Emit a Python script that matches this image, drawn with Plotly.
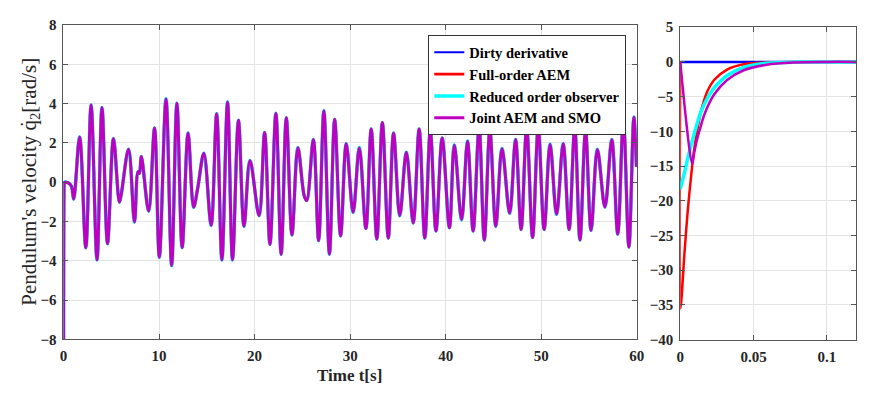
import plotly.graph_objects as go

# ---------------- data ----------------
# Main window (t > 0.12 s): extrema of the pendulum velocity (shared by all observers)
t_main = [0.5, 0.83, 1.07, 1.69, 2.34, 2.89, 3.51, 4.03, 4.61, 5.23, 5.85, 6.05, 6.81, 7.43, 7.80, 7.95,
          8.15, 8.91, 9.53, 10.03, 10.73, 11.32, 11.87, 12.42, 13.04, 13.62, 14.05, 14.69, 15.45, 16.03,
          16.58, 17.17, 17.69, 18.31, 18.89, 19.52, 20.47, 21.05, 21.61, 22.23, 22.78, 23.32, 23.91, 24.53,
          25.2, 25.46, 26.15, 26.70, 27.25, 27.83, 28.38, 29.0, 29.59, 30.31, 30.96, 31.65, 32.2, 32.79,
          33.37, 33.99, 34.54, 35.19, 35.88, 36.6, 37.22, 37.81, 38.39, 38.98, 39.63, 40.39, 40.9, 41.66,
          42.28, 42.87, 43.49, 44.04, 44.62, 45.24, 45.89, 46.69, 47.31, 47.89, 48.47, 49.09, 49.68, 50.3,
          50.92, 51.6, 52.29, 52.91, 53.5, 54.05, 54.63, 55.21, 55.87, 56.66, 57.38, 58.0, 58.59, 59.17,
          59.69, 59.96]
v_main = [-0.03, -0.2, -0.85, 2.3, -3.33, 3.93, -3.95, 3.80, -3.13, 2.22, -1.01, -0.6, 1.68, -2.02, 0.54, 0.45,
          1.31, -1.47, 2.76, -3.82, 4.24, -4.24, 4.02, -3.33, 2.50, -1.27, -0.3, 1.47, -2.19, 3.48,
          -3.95, 4.08, -3.95, 3.15, -2.24, 1.1, -1.7, 2.53, -3.17, 3.51, -3.67, 3.28, -2.68, 1.76,
          -0.7, -0.93, 2.17, -2.97, 3.64, -3.66, 3.20, -2.73, 1.96, -1.53, 1.76, -2.35, 2.71, -2.89,
          3.04, -2.84, 2.50, -1.70, 1.52, -2.07, 2.71, -2.84, 2.63, -2.48, 2.25, -2.32, 1.89, -1.91,
          2.09, -2.48, 2.78, -2.94, 2.66, -2.24, 1.71, -1.58, 2.17, -2.40, 2.78, -2.81, 2.75, -2.40,
          1.93, -1.63, 1.96, -2.40, 2.78, -2.94, 2.63, -2.45, 1.67, -1.26, 2.17, -2.64, 3.15, -3.30,
          3.31, 0.78]

# Initial transient (zoomed window 0 ... 0.12 s)
blue_t = [0.0, 0.12]
blue_v = [0.0, 0.0]
red_t = [0.0, 0.0002, 0.0029, 0.0051, 0.0074, 0.0096, 0.0141, 0.0186, 0.0231, 0.032, 0.0433, 0.059, 0.0814, 0.12]
red_v = [0.0, -35.5, -27.5, -21.5, -16.5, -12.5, -7.2, -4.2, -2.6, -1.1, -0.35, -0.08, 0.0, 0.0]
cyan_t = [0.0, 0.0029, 0.0051, 0.0074, 0.0096, 0.0141, 0.0186, 0.0231, 0.032, 0.0433, 0.059, 0.0814, 0.12]
cyan_v = [-18.3, -15.9, -13.9, -12.0, -10.3, -7.2, -5.2, -3.75, -1.95, -0.8, -0.2, -0.03, 0.0]
mag_t = [0.0, 0.0081, 0.0096, 0.0119, 0.0141, 0.0164, 0.0231, 0.032, 0.0433, 0.059, 0.077, 0.1, 0.12]
mag_v = [0.0, -14.7, -13.0, -10.8, -9.2, -7.6, -4.7, -2.6, -1.2, -0.4, -0.08, 0.0, 0.0]

names = ["Dirty derivative", "Full-order AEM", "Reduced order observer", "Joint AEM and SMO"]
colors = ["#0000ff", "#ff0000", "#00ffff", "#c000c0"]
left_widths = [2.2, 2.8, 3.6, 3.0]
right_widths = [2.5, 2.5, 3.5, 2.5]

assert len(t_main) == len(v_main)

series_start = [(blue_t, blue_v), (red_t, red_v), (cyan_t, cyan_v), (mag_t, mag_v)]

fig = go.Figure()
for i, (st, sv) in enumerate(series_start):
    fig.add_trace(go.Scatter(
        x=st + t_main, y=sv + v_main, mode="lines", name=names[i],
        line=dict(color=colors[i], width=left_widths[i], shape="spline", smoothing=1.0),
        xaxis="x", yaxis="y", showlegend=True))
for i, (st, sv) in enumerate(series_start):
    fig.add_trace(go.Scatter(
        x=st, y=sv, mode="lines", name=names[i],
        line=dict(color=colors[i], width=right_widths[i], shape="spline", smoothing=0.8),
        xaxis="x2", yaxis="y2", showlegend=False))

W, H = 869, 394
FONT = "Liberation Serif"
tickfont = dict(family=FONT, size=15, color="#262626", weight="bold")
axcommon = dict(showline=True, linecolor="#555555", linewidth=1, mirror="ticks",
                ticks="inside", ticklen=5, tickcolor="#555555",
                showgrid=True, gridcolor="#e3e3e3", gridwidth=1, zeroline=False,
                tickfont=tickfont)

fig.update_layout(
    width=W, height=H, margin=dict(l=0, r=0, t=0, b=0),
    paper_bgcolor="white", plot_bgcolor="white",
    xaxis=dict(domain=[60.3 / W, 641.7 / W], range=[0, 60], tickvals=[0, 10, 20, 30, 40, 50, 60],
               anchor="y", ticklabelstandoff=3, **axcommon),
    yaxis=dict(domain=[1 - 345.5 / H, 1 - 17.7 / H], range=[-8, 8], tickvals=list(range(-8, 9, 2)),
               anchor="x", ticklabelstandoff=3, **axcommon),
    xaxis2=dict(domain=[685.7 / W, 864 / W], range=[0, 0.12], tickvals=[0, 0.05, 0.1],
                ticktext=["0", "0.05", "0.1"], anchor="y2", ticklabelstandoff=3, **axcommon),
    yaxis2=dict(domain=[1 - 345.7 / H, 1 - 20 / H], range=[-40, 5], tickvals=list(range(-40, 6, 5)),
                anchor="x2", ticklabelstandoff=3, **axcommon),
    legend=dict(x=631 / W, xanchor="right", y=1 - 28.5 / H, yanchor="top",
                bgcolor="white", bordercolor="#333333", borderwidth=1,
                font=dict(family=FONT, size=14.5, color="black", weight="bold"),
                tracegroupgap=0, itemwidth=30),
    showlegend=True,
)

fig.add_annotation(text="Time t[s]", xref="paper", yref="paper", x=350 / W, y=1 - 383 / H,
                   xanchor="center", yanchor="middle", showarrow=False,
                   font=dict(family=FONT, size=17, color="#262626", weight="bold"))
fig.add_annotation(text="Pendulum's velocity q\u0307<sub>2</sub>[rad/s]", xref="paper", yref="paper",
                   x=26 / W, y=1 - 181.5 / H, xanchor="center", yanchor="middle", textangle=-90,
                   showarrow=False, font=dict(family=FONT, size=21, color="#262626"))

fig.write_html("out.html")
